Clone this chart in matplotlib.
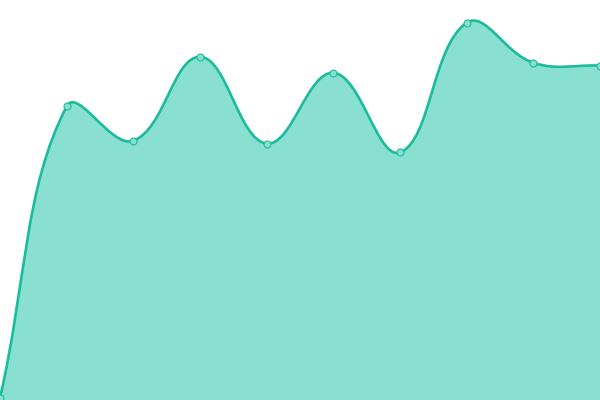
import numpy as np
import matplotlib
matplotlib.use("Agg")
from matplotlib import pyplot as plt
from matplotlib.path import Path
from matplotlib.patches import PathPatch

# values (0..100 scale)
labels = list(range(10))
values = [0.5, 73.4, 64.8, 85.8, 64.1, 81.8, 61.9, 94.3, 84.3, 83.6]

LINE = "#1abc9c"
FILL = "#89e0d0"
TENSION = 0.4


def spline_ctrl(prev, cur, nxt, t):
    # chart.js style control points
    d01 = np.hypot(*(cur - prev))
    d12 = np.hypot(*(nxt - cur))
    tot = d01 + d12
    s01 = d01 / tot if tot else 0
    s12 = d12 / tot if tot else 0
    fa = t * s01
    fb = t * s12
    return cur - fa * (nxt - prev), cur + fb * (nxt - prev)


fig = plt.figure(figsize=(6, 4), dpi=100)
ax = fig.add_axes([0, 0, 1, 1])
ax.set_xlim(0, len(values) - 1)
ax.set_ylim(0, 100)
ax.axis("off")

pts = ax.transData.transform(np.column_stack([labels, values]))
n = len(pts)
ctrl = []
for i in range(n):
    prev = pts[max(i - 1, 0)]
    nxt = pts[min(i + 1, n - 1)]
    ctrl.append(spline_ctrl(prev, pts[i], nxt, TENSION))

verts = [pts[0]]
codes = [Path.MOVETO]
for i in range(n - 1):
    verts += [ctrl[i][1], ctrl[i + 1][0], pts[i + 1]]
    codes += [Path.CURVE4] * 3
inv = ax.transData.inverted()
verts = inv.transform(np.array(verts))

line_path = Path(verts, codes)
fill_verts = np.vstack([verts, [[labels[-1], 0], [labels[0], 0], verts[0]]])
fill_codes = codes + [Path.LINETO, Path.LINETO, Path.CLOSEPOLY]
ax.add_patch(PathPatch(Path(fill_verts, fill_codes), facecolor=FILL, edgecolor="none"))
ax.add_patch(PathPatch(line_path, facecolor="none", edgecolor=LINE, lw=1.9))
ax.plot(labels, values, "o", ms=5, mfc=FILL, mec=LINE, mew=0.8, zorder=3)

fig.savefig("out.png", dpi=100)
